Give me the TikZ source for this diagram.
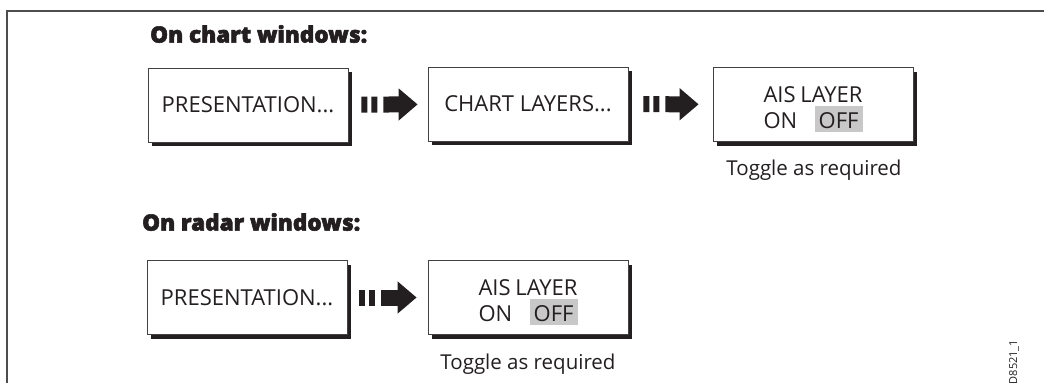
\documentclass[tikz,border=0pt]{standalone}
\usepackage{fontspec}
\setmainfont{Open Sans}
\newfontfamily\headfont[FakeBold=2.5]{Open Sans Bold}
\usetikzlibrary{arrows.meta,shadows}
\definecolor{ink}{RGB}{35,31,32}
\definecolor{offgray}{RGB}{200,200,200}
\newcommand\onoff{ON\hfill\setlength\fboxsep{0pt}\colorbox{offgray}{\rule[-3pt]{0pt}{26pt}\kern4pt OFF\kern4pt}}

\begin{document}
\begin{tikzpicture}[x=1pt,y=-1pt]%
\useasboundingbox (0,0) rectangle (1044,383);
\tikzstyle{menu}=[draw=ink!85,line width=.8pt,fill=white,minimum width=200pt,minimum height=74pt,inner sep=0pt,font=\fontsize{22}{26}\selectfont,text=ink,drop shadow={shadow xshift=4pt,shadow yshift=-4pt,fill=ink,opacity=1}]
\tikzstyle{head}=[anchor=west,inner sep=0pt,font=\fontsize{22.5}{26}\headfont\bfseries,text=ink]
\tikzstyle{note}=[inner sep=0pt,font=\fontsize{20.5}{26}\selectfont,text=ink]
\tikzstyle{go}=[draw=ink,line width=16pt,dash pattern=on 6pt off 4pt on 6pt off 6pt on 80pt,-{Triangle[length=19pt,width=31pt]},shorten <=13pt,shorten >=10pt]
% frame
\draw[ink!80,line width=1.5pt] (7,383) -- (7,11) -- (1044,11);
% chart windows
\node[head] (charthead) at (150,34) {On chart windows:};
\node[menu] (pres) at (248,105) {PRESENTATION...};
\node[menu] (layers) at (528,104) {CHART LAYERS...};
\node[menu] (aischart) at (813,104.5) {\parbox{99pt}{\rule{0pt}{25pt}AIS LAYER\\\onoff}};
\node[note] (togglechart) at (814,170) {Toggle as required};
\draw[go] (pres) -- (layers);
\draw[go,shorten <=15pt,shorten >=14pt] (layers) -- (aischart);
% radar windows
\node[head] (radarhead) at (142,222) {On radar windows:};
\node[menu] (radpres) at (247,297.5) {PRESENTATION...};
\node[menu] (aisradar) at (528,297.5) {\parbox{99pt}{\rule{0pt}{25pt}AIS LAYER\\\onoff}};
\node[note] (toggleradar) at (528,364) {Toggle as required};
\draw[go,shorten <=12pt,shorten >=11pt] (radpres) -- (aisradar);
\node[rotate=90,inner sep=0pt,font=\fontsize{11}{12}\selectfont,text=ink] (code) at (1014,362) {D8521\_1};
\end{tikzpicture}
\end{document}
